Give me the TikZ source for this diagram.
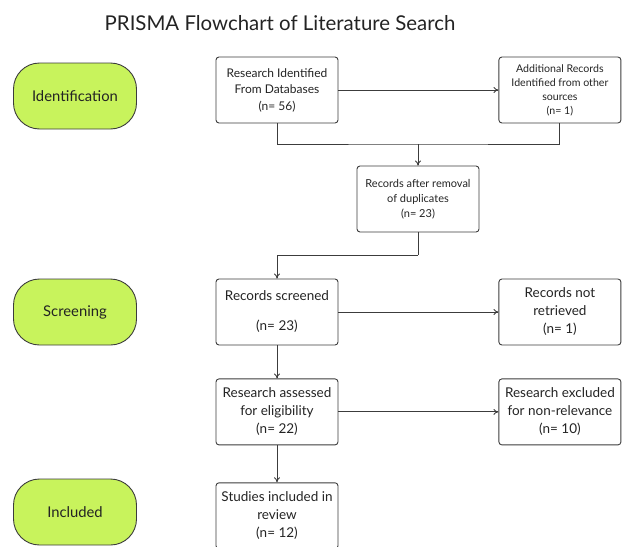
\documentclass[tikz,border=0pt]{standalone}
\usepackage{fontspec}
\setmainfont{Lato}
\usetikzlibrary{arrows.meta,positioning}
\definecolor{lime}{RGB}{200,243,92}
\definecolor{edge}{RGB}{60,60,60}
\definecolor{ink}{RGB}{35,35,35}

\begin{document}
\begin{tikzpicture}[
  x=1pt, y=-1pt,
  node distance=33pt and 160pt,
  box/.style={draw=edge, line width=0.9pt, rounded corners=3pt, minimum width=122pt, minimum height=66pt, align=center, inner sep=3pt, text=ink, font=\fontsize{13.5}{18}\selectfont},
  stage/.style={draw=edge, line width=0.9pt, rounded corners=26pt, fill=lime, minimum width=123pt, minimum height=66pt, text=ink, font=\fontsize{14.8}{18}\selectfont},
  arrow/.style={-{To[length=5pt,width=6pt]}, draw=edge, line width=0.9pt},
  link/.style={draw=edge, line width=0.9pt},
]
  \useasboundingbox (0,0) rectangle (623,546);
  \node[text=ink, font=\fontsize{20.4}{24}\selectfont] (title) at (280,23) {PRISMA Flowchart of Literature Search};

  % stages on the left
  \node[stage] (ident) at (75,96) {Identification};
  \node[stage] (screen) at (75,312) {Screening};
  \node[stage] (included) at (75,512) {Included};

  % identification
  \node[box, font=\fontsize{12}{16.5}\selectfont] (databases) at (277,90) {Research Identified\\ From Databases\\ (n= 56)};
  \node[box, font=\fontsize{10.6}{14}\selectfont, right=160pt of databases] (othersrc) {Additional Records\\ Identified from other\\ sources\\ (n= 1)};
  \node[box, font=\fontsize{11}{15}\selectfont] (dedup) at (418,199) {Records after removal\\ of duplicates\\ (n= 23)};
  \draw[arrow] (databases) -- (othersrc);
  \coordinate (merge) at (418,144);
  \draw[link] (databases.south) |- (merge) -| (othersrc.south);
  \draw[arrow] (merge) -- (dedup.north);

  % screening
  \node[box] (screened) at (277,312) {Records screened\\[12pt] (n= 23)};
  \node[box, right=160pt of screened] (notretr) {Records not\\ retrieved\\ (n= 1)};
  \coordinate (bend) at (418,255);
  \draw[link] (dedup.south) -- (bend);
  \draw[arrow] (bend) -| (screened.north);
  \draw[arrow] (screened) -- (notretr);

  % eligibility and inclusion
  \node[box, below=of screened] (assessed) {Research assessed\\ for eligibility\\ (n= 22)};
  \node[box, right=160pt of assessed] (excluded) {Research excluded\\ for non-relevance\\ (n= 10)};
  \node[box, below=37pt of assessed] (studies) {Studies included in\\ review\\ (n= 12)};
  \draw[arrow] (screened) -- (assessed);
  \draw[arrow] (assessed) -- (excluded);
  \draw[arrow] (assessed) -- (studies);
\end{tikzpicture}
\end{document}
